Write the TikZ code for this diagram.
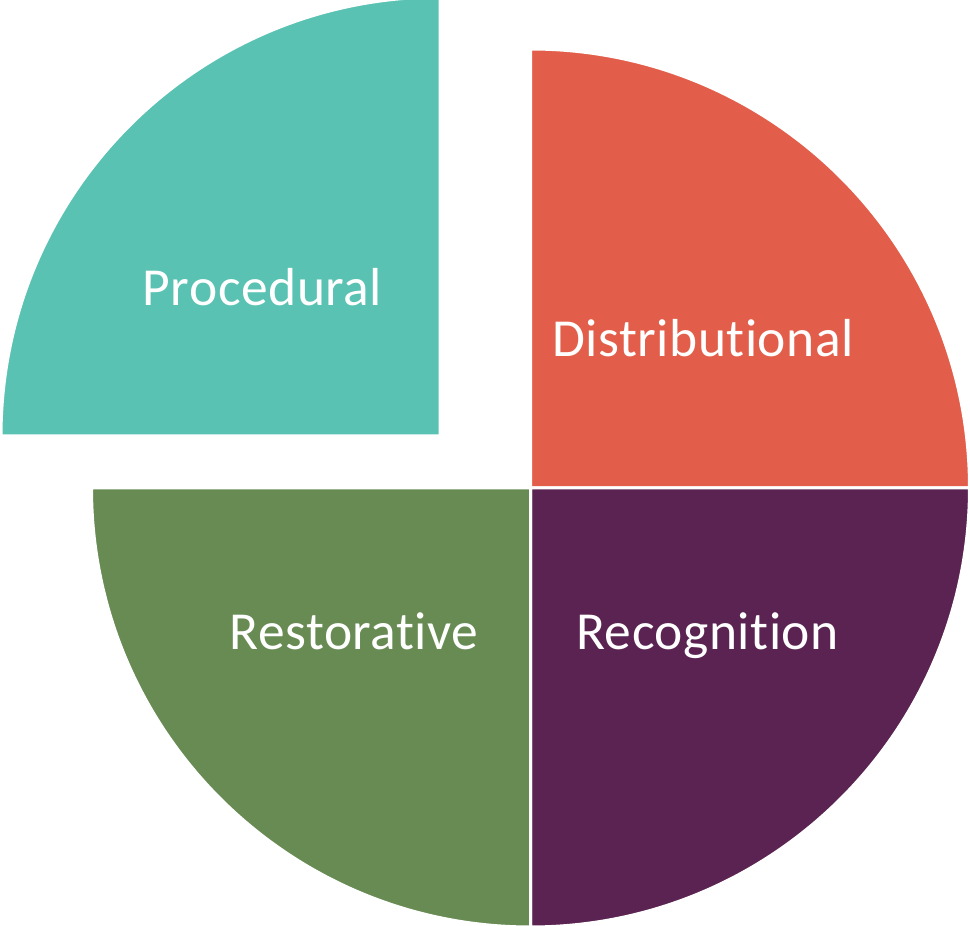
\documentclass[tikz,border=0pt]{standalone}
\usepackage{fontspec}
\setmainfont{Carlito}[Ligatures=NoCommon, LetterSpace=1]
\usetikzlibrary{positioning}
\definecolor{distred}{RGB}{227, 94, 74}
\definecolor{recogpurple}{RGB}{90, 35, 82}
\definecolor{restogreen}{RGB}{104, 139, 83}
\definecolor{procteal}{RGB}{89, 194, 179}

\begin{document}
\begin{tikzpicture}[x=1pt, y=1pt,
        slice/.style={draw=white, line width=3pt, line join=miter},
        sectortext/.style={text=white, font=\fontsize{53.5}{60}\selectfont, anchor=base, inner sep=0pt}
    ]
        \useasboundingbox (0, 0) rectangle (970, 926);
        \fill[white] (0, 0) rectangle (970, 926);

        \filldraw[slice, fill=distred] (530.5, 438) -- ++(0, 439) arc[start angle=90, end angle=0, radius=439] -- cycle;
        \filldraw[slice, fill=recogpurple] (530.5, 438) -- ++(439, 0) arc[start angle=0, end angle=-90, radius=439] -- cycle;
        \filldraw[slice, fill=restogreen] (530.5, 438) -- ++(0, -439) arc[start angle=-90, end angle=-180, radius=439] -- cycle;
        \filldraw[slice, fill=procteal] (440, 490) -- ++(-439, 0) arc[start angle=180, end angle=90, radius=439] -- cycle;

        \node[sectortext] (proc) at (262.5, 620) {Procedural};
        \node[sectortext] (dist) at (703, 569.5) {Distributional};
        \node[sectortext] (recog) at (707.5, 276) {Recognition};
        \node[sectortext] (resto) at (354, 276) {Restorative};
    \end{tikzpicture}
\end{document}
